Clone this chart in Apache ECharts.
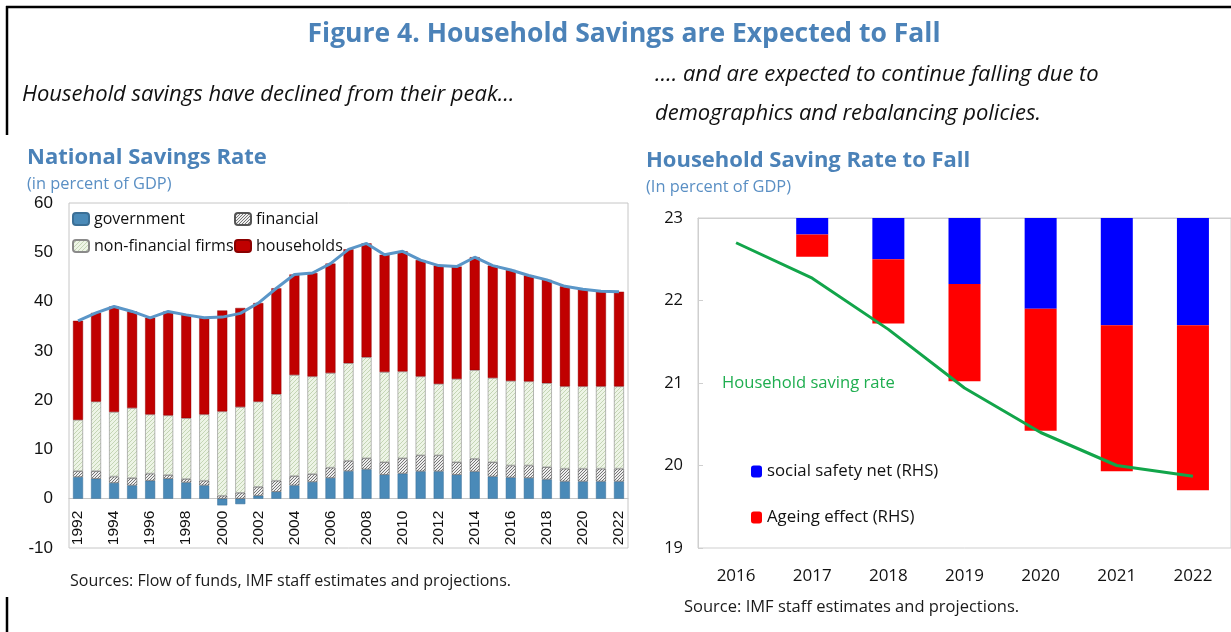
<!DOCTYPE html>
<html>
<head>
<meta charset="utf-8">
<script src="https://cdn.jsdelivr.net/npm/echarts@6/dist/echarts.min.js"></script>
<style>
html,body{margin:0;padding:0;background:#fff;}
#chart{width:1231px;height:632px;}
</style>
</head>
<body>
<div id="chart"></div>
<script>
// ---------- Left chart: National Savings Rate ----------
const years = ['1992','1993','1994','1995','1996','1997','1998','1999','2000','2001','2002','2003','2004','2005','2006','2007','2008','2009','2010','2011','2012','2013','2014','2015','2016','2017','2018','2019','2020','2021','2022'];
const government = [4.4,4.05,3.2,2.7,3.65,4.05,3.3,2.7,-1.35,-1.1,0.6,1.4,2.7,3.4,4.2,5.6,5.95,4.85,5.1,5.55,5.55,4.85,5.5,4.5,4.3,4.2,3.9,3.5,3.5,3.5,3.5];
const financial = [1.2,1.55,1.3,1.5,1.45,0.75,0.7,0.95,0.6,1.2,1.8,2.25,1.9,1.6,2.1,2.1,2.25,2.55,3.1,3.25,3.25,2.55,2.6,2.9,2.45,2.55,2.5,2.6,2.6,2.6,2.6];
const nonFinancial = [10.4,14.1,13.1,14.2,12.0,12.1,12.35,13.45,17.1,17.4,17.3,17.55,20.5,19.8,19.2,19.8,20.5,18.3,17.6,16.0,14.5,16.9,18.0,17.1,17.15,17.05,17.05,16.7,16.7,16.7,16.7];
const households = [20.1,18.0,21.4,19.6,19.6,21.1,20.95,19.6,20.5,20.1,20.0,21.5,20.4,21.0,22.2,23.1,23.1,23.8,24.4,23.6,24.0,22.8,22.9,22.8,22.5,21.5,20.95,20.3,19.7,19.3,19.2];
const nationalTotal = [36.1,37.7,39.0,38.0,36.7,38.0,37.3,36.7,36.85,37.6,39.7,42.7,45.5,45.8,47.7,50.6,51.8,49.5,50.2,48.4,47.3,47.1,49.0,47.3,46.4,45.3,44.4,43.1,42.5,42.1,42.0];

// ---------- Right chart: Household Saving Rate to Fall ----------
const projYears = ['2016','2017','2018','2019','2020','2021','2022'];
const savingRate = [22.7,22.27,21.65,20.94,20.40,20.0,19.87];
const socialSafetyNet = [null,0.2,0.5,0.8,1.1,1.3,1.3];
const ageingEffect = [null,0.27,0.78,1.18,1.48,1.77,2.0];

function hatch(bg, fg, size){
  const c = document.createElement('canvas');
  c.width = size; c.height = size;
  const g = c.getContext('2d');
  g.fillStyle = bg; g.fillRect(0,0,size,size);
  g.strokeStyle = fg; g.lineWidth = 1;
  g.beginPath();
  g.moveTo(0,size); g.lineTo(size,0);
  g.moveTo(-1,1); g.lineTo(1,-1);
  g.moveTo(size-1,size+1); g.lineTo(size+1,size-1);
  g.stroke();
  return c;
}
const finPattern = {image: hatch('#eeeeee','#777777',3), repeat:'repeat'};
const nfPattern = {image: hatch('#edf4e6','#c4d5b4',4), repeat:'repeat'};

const blueTitle = '#4B82B8';
const sans = '"Open Sans", "Noto Sans", sans-serif';
const arial = '"Liberation Sans", Arial, sans-serif';

// left grid geometry: 0 line offset from grid bottom
const leftTop = 203, leftH = 345, leftMin = -10, leftMax = 60;
const zeroOffset = -leftH * (0 - leftMin) / (leftMax - leftMin);

const chart = echarts.init(document.getElementById('chart'), null, {renderer:'canvas'});
const option = {
  animation: false,
  backgroundColor: '#fff',
  title: [
    {text:'Figure 4. Household Savings are Expected to Fall', left:624, top:21, textAlign:'center', padding:0,
     textStyle:{fontFamily:sans, fontSize:26.5, fontWeight:700, color:blueTitle}},
    {text:'Household savings have declined from their peak…', left:22, top:84, padding:0,
     textStyle:{fontFamily:sans, fontSize:22, fontStyle:'italic', fontWeight:400, color:'#111'}},
    {text:'…. and are expected to continue falling due to', left:655, top:64, padding:0,
     textStyle:{fontFamily:sans, fontSize:22, fontStyle:'italic', fontWeight:400, color:'#111'}},
    {text:'demographics and rebalancing policies.', left:655, top:103, padding:0,
     textStyle:{fontFamily:sans, fontSize:22, fontStyle:'italic', fontWeight:400, color:'#111'}},
    {text:'National Savings Rate', left:27, top:147, padding:0,
     textStyle:{fontFamily:sans, fontSize:22, fontWeight:700, color:blueTitle}},
    {text:'(in percent of GDP)', left:27, top:176, padding:0,
     textStyle:{fontFamily:sans, fontSize:16.4, fontWeight:400, color:'#5a8fc4'}},
    {text:'Household Saving Rate to Fall', left:646, top:150, padding:0,
     textStyle:{fontFamily:sans, fontSize:22, fontWeight:700, color:blueTitle}},
    {text:'(In percent of GDP)', left:646, top:179, padding:0,
     textStyle:{fontFamily:sans, fontSize:16.4, fontWeight:400, color:'#5a8fc4'}},
    {text:'Household saving rate', left:722, top:375, padding:0,
     textStyle:{fontFamily:sans, fontSize:16.6, fontWeight:400, color:'#1fae50'}},
    {text:'Sources: Flow of funds, IMF staff estimates and projections.', left:70, top:573, padding:0,
     textStyle:{fontFamily:sans, fontSize:16, fontWeight:400, color:'#1a1a1a'}},
    {text:'Source: IMF staff estimates and projections.', left:684, top:599, padding:0,
     textStyle:{fontFamily:sans, fontSize:16.5, fontWeight:400, color:'#1a1a1a'}}
  ],
  legend: [
    {orient:'vertical', left:72, top:211, padding:0, itemWidth:16, itemHeight:12, itemGap:11,
     data:['government','non-financial firms'], selectedMode:false,
     textStyle:{fontFamily:sans, fontSize:16, color:'#111'}},
    {orient:'vertical', left:234, top:211, padding:0, itemWidth:16, itemHeight:12, itemGap:11,
     data:['financial','households'], selectedMode:false,
     textStyle:{fontFamily:sans, fontSize:16, color:'#111'}},
    {orient:'vertical', left:751, top:463, padding:0, itemWidth:11, itemHeight:12, itemGap:29,
     data:['social safety net (RHS)','Ageing effect (RHS)'], selectedMode:false,
     textStyle:{fontFamily:sans, fontSize:16.8, color:'#111'}}
  ],
  grid: [
    {left:69, top:leftTop, width:559, height:leftH, show:true, borderColor:'#c6c6c6', borderWidth:1, containLabel:false},
    {left:698, top:218, width:550, height:330, show:true, borderColor:'#cfcfcf', borderWidth:1, containLabel:false}
  ],
  xAxis: [
    {type:'category', gridIndex:0, data:years, position:'bottom', offset:zeroOffset,
     axisLine:{onZero:false, lineStyle:{color:'#c6c6c6'}}, axisTick:{show:false},
     axisLabel:{rotate:90, interval:1, margin:12, fontFamily:arial, fontSize:15.5, color:'#111'}},
    {type:'category', gridIndex:1, data:projYears,
     axisLine:{lineStyle:{color:'#cfcfcf'}}, axisTick:{inside:true, length:5, lineStyle:{color:'#cfcfcf'}},
     axisLabel:{margin:20, fontFamily:sans, fontSize:17, color:'#111'}}
  ],
  yAxis: [
    {type:'value', gridIndex:0, min:leftMin, max:leftMax, interval:10,
     axisLine:{show:false}, axisTick:{show:false}, splitLine:{show:false},
     axisLabel:{margin:16, fontFamily:arial, fontSize:17, color:'#111'}},
    {type:'value', gridIndex:1, min:19, max:23, interval:1,
     axisLine:{show:true, lineStyle:{color:'#cfcfcf'}}, axisTick:{show:true, inside:true, length:5, lineStyle:{color:'#cfcfcf'}},
     splitLine:{show:false},
     axisLabel:{margin:15, fontFamily:sans, fontSize:16.5, color:'#111'}},
    {type:'value', gridIndex:1, min:0, max:4, inverse:true, position:'right', show:false}
  ],
  series: [
    {name:'government', type:'bar', stack:'nat', xAxisIndex:0, yAxisIndex:0, barWidth:10, data:government,
     itemStyle:{color:'#4a8ab8', borderColor:'#3b6f96', borderWidth:0.5}},
    {name:'financial', type:'bar', stack:'nat', xAxisIndex:0, yAxisIndex:0, barWidth:10, data:financial,
     itemStyle:{color:finPattern, borderColor:'#555', borderWidth:0.6}},
    {name:'non-financial firms', type:'bar', stack:'nat', xAxisIndex:0, yAxisIndex:0, barWidth:10, data:nonFinancial,
     itemStyle:{color:nfPattern, borderColor:'#8a8a8a', borderWidth:0.6}},
    {name:'households', type:'bar', stack:'nat', xAxisIndex:0, yAxisIndex:0, barWidth:10, data:households,
     itemStyle:{color:'#c00000', borderColor:'#8a0000', borderWidth:0.4}},
    {name:'total', type:'line', xAxisIndex:0, yAxisIndex:0, data:nationalTotal, symbol:'none',
     lineStyle:{color:'#5a96c8', width:3}, z:5},
    {name:'social safety net (RHS)', type:'bar', stack:'hh', xAxisIndex:1, yAxisIndex:2, barWidth:32, data:socialSafetyNet,
     itemStyle:{color:'#0000ff'}},
    {name:'Ageing effect (RHS)', type:'bar', stack:'hh', xAxisIndex:1, yAxisIndex:2, barWidth:32, data:ageingEffect,
     itemStyle:{color:'#ff0000'}},
    {name:'Household saving rate', type:'line', xAxisIndex:1, yAxisIndex:1, data:savingRate, symbol:'none',
     lineStyle:{color:'#12a54a', width:3}, z:5}
  ],
  graphic: [
    {type:'line', shape:{x1:6, y1:7, x2:1231, y2:7}, style:{stroke:'#000', lineWidth:2.5}, silent:true},
    {type:'line', shape:{x1:7, y1:6, x2:7, y2:135}, style:{stroke:'#000', lineWidth:2.5}, silent:true},
    {type:'line', shape:{x1:7, y1:597, x2:7, y2:632}, style:{stroke:'#000', lineWidth:2.5}, silent:true}
  ]
};
chart.setOption(option);
</script>
</body>
</html>
